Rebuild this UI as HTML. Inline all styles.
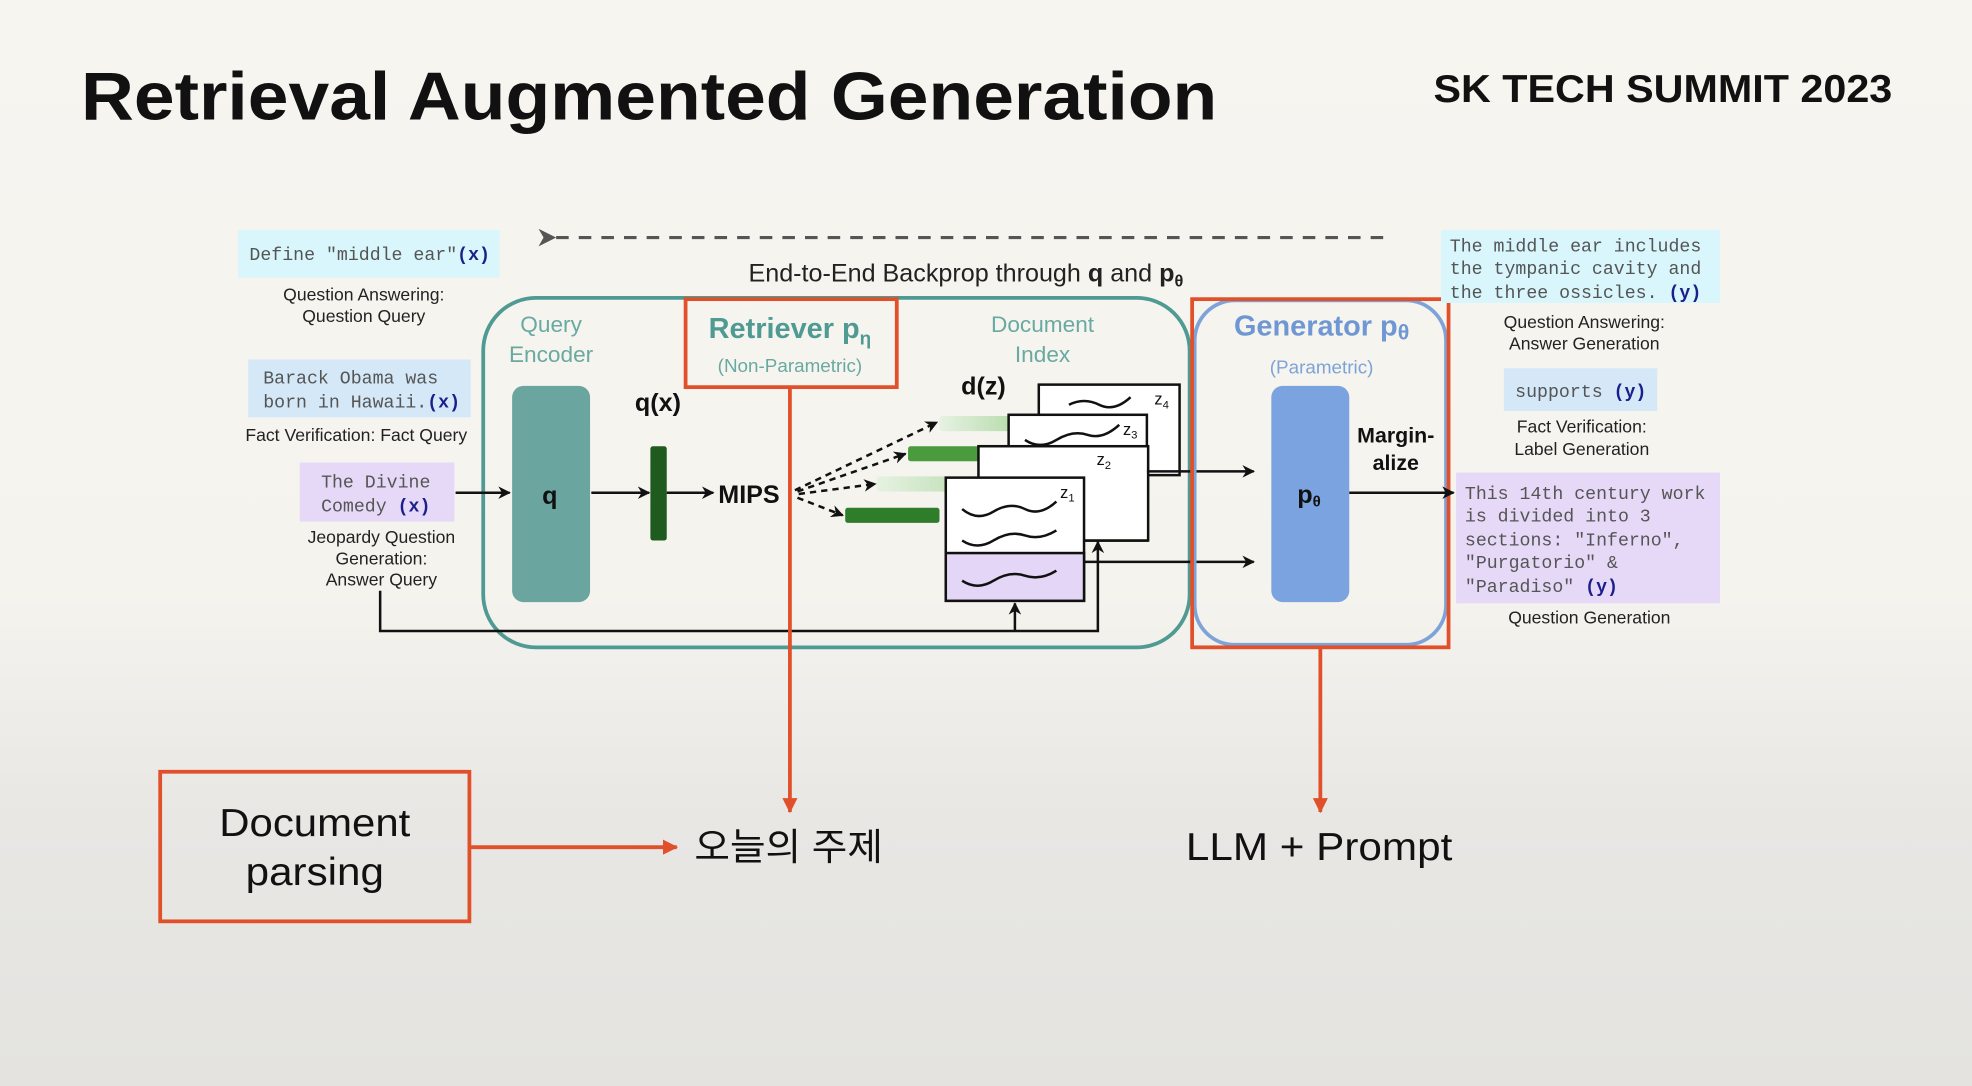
<!DOCTYPE html>
<html><head><meta charset="utf-8"><style>
html,body{margin:0;padding:0;}
body{width:1972px;height:1086px;overflow:hidden;background:linear-gradient(#f7f5f0 0%,#f5f3ee 55%,#e8e7e4 75%,#e4e3e0 100%);}
svg{display:block}
.m{font-family:"Liberation Mono",monospace;font-size:14.5px;fill:#555;}
.b{fill:#1a1f8a;font-weight:bold}
.l{font-family:"Liberation Sans",sans-serif;font-size:14px;fill:#222;text-anchor:middle}
</style></head><body>
<svg width="1972" height="1086" viewBox="0 0 1568 864" font-family="Liberation Sans, sans-serif">
<defs>
<marker id="a" markerWidth="10" markerHeight="10" refX="9" refY="5" orient="auto" markerUnits="userSpaceOnUse"><path d="M0,0 L10,5 L0,10 L3,5z" fill="#111"/></marker>
<marker id="r" markerWidth="12" markerHeight="12" refX="11" refY="6" orient="auto" markerUnits="userSpaceOnUse"><path d="M0,0 L12,6 L0,12z" fill="#e0502a"/></marker>
<marker id="g" markerWidth="14" markerHeight="14" refX="2" refY="7" orient="auto" markerUnits="userSpaceOnUse"><path d="M14,0 L0,7 L14,14 L10,7z" fill="#555"/></marker>
<linearGradient id="lg" x1="0" x2="1"><stop offset="0" stop-color="#e6f2e2"/><stop offset="1" stop-color="#b9dcae"/></linearGradient>
</defs>
<text x="64" y="95" font-size="54" font-weight="bold" fill="#111" textLength="904" lengthAdjust="spacingAndGlyphs">Retrieval Augmented Generation</text>
<text x="1140" y="81" font-size="31" font-weight="bold" fill="#111" textLength="365" lengthAdjust="spacingAndGlyphs">SK TECH SUMMIT 2023</text>

<line x1="1100" y1="189" x2="440" y2="189" stroke="#555" stroke-width="2.5" stroke-dasharray="10,8" marker-end="url(#g)"/>
<text x="768" y="224" font-size="20" text-anchor="middle" fill="#222">End-to-End Backprop through <tspan font-weight="bold">q</tspan> and <tspan font-weight="bold">p</tspan><tspan font-size="13" font-weight="bold" dy="4">θ</tspan></text>

<!-- left inputs -->
<rect x="189" y="183" width="208" height="38" fill="#d8f6fb"/>
<text class="m" x="198" y="207">Define "middle ear"<tspan class="b">(x)</tspan></text>
<text class="l" x="289" y="239">Question Answering:</text>
<text class="l" x="289" y="256">Question Query</text>
<rect x="197" y="286" width="177" height="46" fill="#d4e8f8"/>
<text class="m" x="209" y="305">Barack Obama was</text>
<text class="m" x="209" y="324">born in Hawaii.<tspan class="b">(x)</tspan></text>
<text class="l" x="283" y="351">Fact Verification: Fact Query</text>
<rect x="238" y="368" width="123" height="47" fill="#e6d9f8"/>
<text class="m" x="255" y="388">The Divine</text>
<text class="m" x="255" y="407">Comedy  <tspan class="b">(x)</tspan></text>
<text class="l" x="303" y="432">Jeopardy Question</text>
<text class="l" x="303" y="449">Generation:</text>
<text class="l" x="303" y="466">Answer Query</text>

<!-- retriever -->
<rect x="384" y="237" width="562" height="278" rx="42" fill="none" stroke="#4f9a92" stroke-width="3"/>
<text x="438" y="264" font-size="18" fill="#6aa9a2" text-anchor="middle">Query</text>
<text x="438" y="288" font-size="18" fill="#6aa9a2" text-anchor="middle">Encoder</text>
<text x="829" y="264" font-size="18" fill="#6aa9a2" text-anchor="middle">Document</text>
<text x="829" y="288" font-size="18" fill="#6aa9a2" text-anchor="middle">Index</text>
<rect x="545" y="238" width="168" height="70" fill="#f6f4ef" stroke="#e0502a" stroke-width="3"/>
<text x="628" y="269" font-size="23" font-weight="bold" fill="#4f9a92" text-anchor="middle">Retriever p<tspan font-size="15" dy="5">η</tspan></text>
<text x="628" y="296" font-size="15" fill="#6aa9a2" text-anchor="middle">(Non-Parametric)</text>

<rect x="407" y="307" width="62" height="172" rx="9" fill="#6aa59f"/>
<text x="437" y="401" font-size="20" font-weight="bold" fill="#111" text-anchor="middle">q</text>
<line x1="362" y1="392" x2="405" y2="392" stroke="#111" stroke-width="2" marker-end="url(#a)"/>
<line x1="470" y1="392" x2="516" y2="392" stroke="#111" stroke-width="2" marker-end="url(#a)"/>
<rect x="517" y="355" width="13" height="75" rx="2" fill="#1f5a1f"/>
<text x="523" y="327" font-size="20" font-weight="bold" fill="#111" text-anchor="middle">q(x)</text>
<line x1="530" y1="392" x2="567" y2="392" stroke="#111" stroke-width="2" marker-end="url(#a)"/>
<text x="571" y="400" font-size="20" font-weight="bold" fill="#111">MIPS</text>
<g stroke="#111" stroke-width="2" stroke-dasharray="5,4" fill="none" marker-end="url(#a)">
<line x1="632" y1="390" x2="745" y2="336"/>
<line x1="634" y1="391" x2="720" y2="361"/>
<line x1="635" y1="393" x2="696" y2="385"/>
<line x1="634" y1="396" x2="670" y2="410"/>
</g>
<rect x="747" y="331" width="58" height="12" rx="2" fill="url(#lg)"/>
<rect x="722" y="355" width="82" height="12" rx="2" fill="#4a9a3e"/>
<rect x="697" y="379" width="82" height="12" rx="2" fill="url(#lg)"/>
<rect x="672" y="404" width="75" height="12" rx="2" fill="#2f7d2b"/>
<text x="782" y="314" font-size="20" font-weight="bold" fill="#111" text-anchor="middle">d(z)</text>

<g stroke="#111" stroke-width="2">
<rect x="826" y="306" width="112" height="72" fill="#fff"/>
<rect x="802" y="330" width="110" height="100" fill="#fff"/>
<rect x="802" y="392" width="110" height="38" fill="#e3d6f6"/>
<rect x="778" y="355" width="135" height="75" fill="#fff"/>
<rect x="752" y="380" width="110" height="98" fill="#fff"/>
<rect x="752" y="440" width="110" height="38" fill="#e3d6f6"/>
</g>
<g stroke="#111" stroke-width="2" fill="none">
<path d="M765,405 q12,10 25,2 t25,-2 t25,-6"/>
<path d="M765,430 q12,8 25,0 t25,-4 t25,-4"/>
<path d="M765,462 q12,8 25,0 t25,-4 t25,-4"/>
<path d="M815,350 q12,8 25,0 t25,-4 t25,-8"/>
<path d="M850,322 q12,-6 24,0 t25,-6"/>
</g>
<text x="843" y="396" font-size="13" fill="#111">z<tspan font-size="9" dy="3">1</tspan></text>
<text x="872" y="370" font-size="13" fill="#111">z<tspan font-size="9" dy="3">2</tspan></text>
<text x="893" y="346" font-size="13" fill="#111">z<tspan font-size="9" dy="3">3</tspan></text>
<text x="918" y="322" font-size="13" fill="#111">z<tspan font-size="9" dy="3">4</tspan></text>

<line x1="912" y1="375" x2="997" y2="375" stroke="#111" stroke-width="2" marker-end="url(#a)"/>
<line x1="862" y1="447" x2="997" y2="447" stroke="#111" stroke-width="2" marker-end="url(#a)"/>
<polyline points="302,470 302,502 873,502 873,431" fill="none" stroke="#111" stroke-width="2" marker-end="url(#a)"/>
<line x1="807" y1="502" x2="807" y2="480" stroke="#111" stroke-width="2" marker-end="url(#a)"/>

<!-- generator -->
<rect x="950" y="239" width="200" height="274" rx="32" fill="none" stroke="#7da3d8" stroke-width="3"/>
<rect x="948" y="238" width="204" height="277" fill="none" stroke="#e0502a" stroke-width="3"/>
<text x="1051" y="267" font-size="23" font-weight="bold" fill="#6f97d3" text-anchor="middle">Generator p<tspan font-size="17" dy="3">θ</tspan></text>
<text x="1051" y="297" font-size="15" fill="#7da3d8" text-anchor="middle">(Parametric)</text>
<rect x="1011" y="307" width="62" height="172" rx="9" fill="#7aa3e0"/>
<text x="1041" y="400" font-size="20" font-weight="bold" fill="#111" text-anchor="middle">p<tspan font-size="12" dy="3">θ</tspan></text>
<text x="1110" y="352" font-size="17" font-weight="bold" fill="#111" text-anchor="middle">Margin-</text>
<text x="1110" y="374" font-size="17" font-weight="bold" fill="#111" text-anchor="middle">alize</text>
<line x1="1073" y1="392" x2="1156" y2="392" stroke="#111" stroke-width="2" marker-end="url(#a)"/>

<!-- right outputs -->
<rect x="1146" y="183" width="222" height="58" fill="#d8f6fb"/>
<text class="m" x="1153" y="200">The middle ear includes</text>
<text class="m" x="1153" y="218">the tympanic cavity and</text>
<text class="m" x="1153" y="237">the three ossicles.  <tspan class="b">(y)</tspan></text>
<text class="l" x="1260" y="261">Question Answering:</text>
<text class="l" x="1260" y="278">Answer Generation</text>
<rect x="1196" y="293" width="122" height="34" fill="#d4e8f8"/>
<text class="m" x="1205" y="316">supports <tspan class="b">(y)</tspan></text>
<text class="l" x="1258" y="344">Fact Verification:</text>
<text class="l" x="1258" y="362">Label Generation</text>
<rect x="1158" y="376" width="210" height="104" fill="#e6d9f8"/>
<text class="m" x="1165" y="397">This 14th century work</text>
<text class="m" x="1165" y="415">is divided into 3</text>
<text class="m" x="1165" y="434">sections: "Inferno",</text>
<text class="m" x="1165" y="452">"Purgatorio" &amp;</text>
<text class="m" x="1165" y="471">"Paradiso"      <tspan class="b">(y)</tspan></text>
<text class="l" x="1264" y="496">Question Generation</text>

<!-- bottom -->
<line x1="628" y1="308" x2="628" y2="646" stroke="#e0502a" stroke-width="3" marker-end="url(#r)"/>
<line x1="1050" y1="515" x2="1050" y2="646" stroke="#e0502a" stroke-width="3" marker-end="url(#r)"/>
<rect x="127" y="614" width="246" height="119" fill="none" stroke="#e0502a" stroke-width="3"/>
<text x="250" y="665" font-size="31" font-weight="500" fill="#111" text-anchor="middle" textLength="152" lengthAdjust="spacingAndGlyphs">Document</text>
<text x="250" y="704" font-size="31" fill="#111" text-anchor="middle" textLength="110" lengthAdjust="spacingAndGlyphs">parsing</text>
<line x1="374" y1="674" x2="538" y2="674" stroke="#e0502a" stroke-width="3" marker-end="url(#r)"/>
<text x="552" y="684" font-size="30" fill="#111" font-family="Liberation Sans, Noto Sans CJK KR, sans-serif" textLength="150" lengthAdjust="spacingAndGlyphs">오늘의 주제</text>
<text x="943" y="684" font-size="31" fill="#111" textLength="212" lengthAdjust="spacingAndGlyphs">LLM + Prompt</text>
</svg>
</body></html>
